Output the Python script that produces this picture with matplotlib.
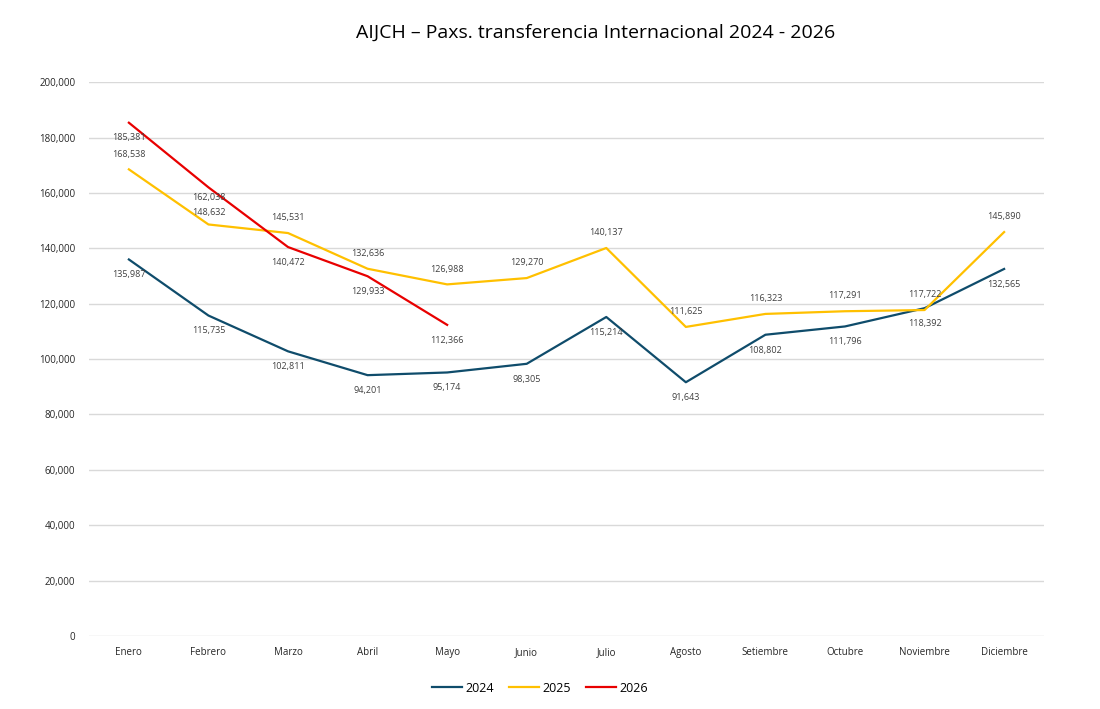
import matplotlib
matplotlib.use("Agg")
import matplotlib.pyplot as plt
from matplotlib.ticker import FuncFormatter

plt.rcParams["font.family"] = ["Open Sans", "DejaVu Sans"]

MONTHS = ["Enero", "Febrero", "Marzo", "Abril", "Mayo", "Junio", "Julio",
          "Agosto", "Setiembre", "Octubre", "Noviembre", "Diciembre"]
Y2024 = [135987, 115735, 102811, 94201, 95174, 98305, 115214,
         91643, 108802, 111796, 118392, 132565]
Y2025 = [168538, 148632, 145531, 132636, 126988, 129270, 140137,
         111625, 116323, 117291, 117722, 145890]
Y2026 = [185381, 162038, 140472, 129933, 112366]

C2024 = "#0F4C6B"
C2025 = "#FFC000"
C2026 = "#E80000"
LABEL_COLOR = "#404040"

fig = plt.figure(figsize=(11, 7.09), dpi=100)
ax = fig.add_axes([0.081, 0.103, 0.868, 0.781])

x = list(range(len(MONTHS)))
ax.plot(x, Y2024, color=C2024, linewidth=1.6, label="2024")
ax.plot(x, Y2025, color=C2025, linewidth=1.6, label="2025")
ax.plot(x[:len(Y2026)], Y2026, color=C2026, linewidth=1.6, label="2026")


def annotate(vals, dy, special=None):
    special = special or {}
    for i, v in enumerate(vals):
        ax.annotate(f"{v:,}", (i, v), xytext=(0, special.get(i, dy)),
                    textcoords="offset points", ha="center", va="center",
                    fontsize=6.5, color=LABEL_COLOR)


# Febrero labels of 2025/2026 sit close together: pull them slightly apart
annotate(Y2024, -11)
annotate(Y2025, 11, {1: 8.5})
annotate(Y2026, -11, {1: -7.5})

ax.set_xlim(-0.5, 11.5)
ax.set_ylim(0, 200000)
ax.set_yticks(range(0, 200001, 20000))
ax.yaxis.set_major_formatter(FuncFormatter(lambda v, p: f"{int(v):,}"))
ax.set_xticks(x)
ax.set_xticklabels(MONTHS)
ax.tick_params(axis="both", length=0, labelsize=7, labelcolor="#262626")
ax.tick_params(axis="x", pad=8)
ax.tick_params(axis="y", pad=10)
ax.yaxis.grid(True, color="#D9D9D9", linewidth=1)
ax.set_axisbelow(True)
for s in ax.spines.values():
    s.set_visible(False)

fig.text(596 / 1100, 1 - 33 / 709, "AIJCH – Paxs. transferencia Internacional 2024 - 2026",
         ha="center", va="center", fontsize=14, color="#000000")

fig.legend(loc="center", bbox_to_anchor=(540 / 1100, 1 - 688 / 709), ncol=3,
           frameon=False, fontsize=9, handlelength=2.4, columnspacing=1.2,
           handletextpad=0.3)

fig.savefig("out.png", dpi=100)
